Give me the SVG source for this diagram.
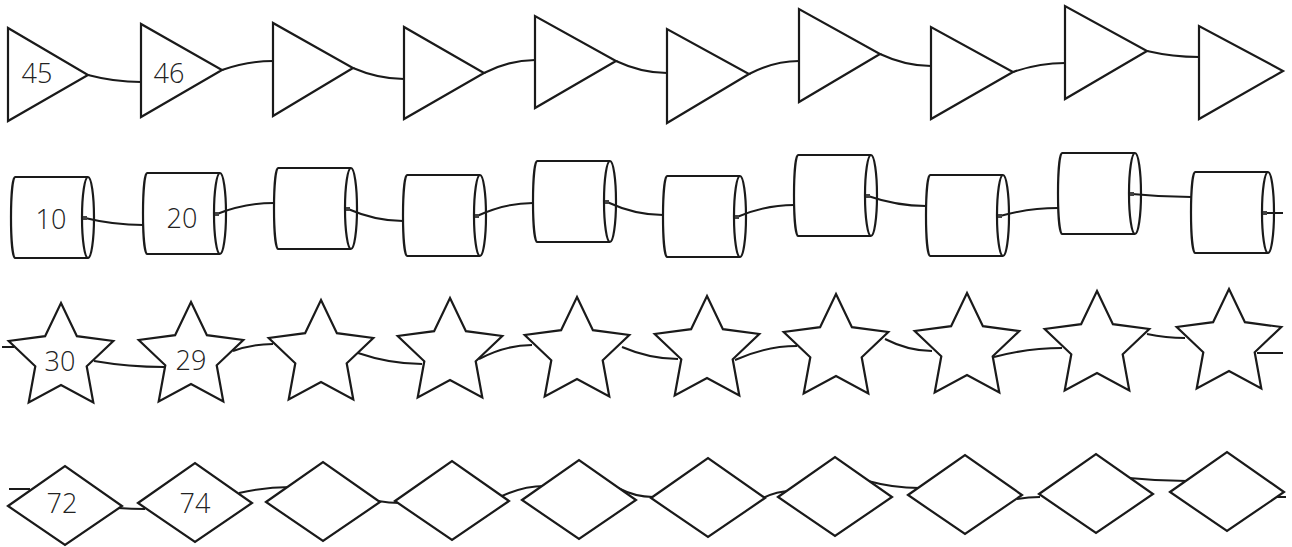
<svg xmlns="http://www.w3.org/2000/svg" xmlns:xlink="http://www.w3.org/1999/xlink" width="1292" height="547" viewBox="0 0 1292 547">
<style>
.shape{fill:#fff;stroke:#1a1a1a;stroke-width:2.2;stroke-linejoin:miter}
.open{fill:none;stroke:#1a1a1a;stroke-width:2.2}
.conn{fill:none;stroke:#1a1a1a;stroke-width:2}
.dot{fill:#444}
.lbl{font-family:"Open Sans","Noto Sans","Liberation Sans",sans-serif;font-weight:300;font-size:27px;fill:#222;text-anchor:middle}
</style>
<defs>
<path id="star" d="M0,-55 L15.9,-21.8 L52.3,-17 L25.7,8.3 L32.3,44.5 L0,27 L-32.3,44.5 L-25.7,8.3 L-52.3,-17 L-15.9,-21.8 Z"/>
<path id="diamond" d="M-57,0 L0,-40 L57,0 L0,39 Z"/>
<g id="cyl">
<path class="shape" d="M4,0 H77 M77,81 H4 A4,40.5 0 0 1 4,0"/>
<ellipse class="open" cx="77" cy="40.5" rx="6" ry="40.5"/>
<rect class="dot" x="72" y="39" width="4" height="4"/>
</g>
</defs>
<rect width="1292" height="547" fill="#fff"/>
<g id="connectors">
<path class="conn" d="M88,75 Q114.5,82 141,82"/>
<path class="conn" d="M222,70 Q247.5,61 273,61"/>
<path class="conn" d="M353,68 Q378.5,79 404,79"/>
<path class="conn" d="M484,73 Q509.5,60 535,60"/>
<path class="conn" d="M616,61 Q641.5,73 667,73"/>
<path class="conn" d="M749,74 Q774,61 799,61"/>
<path class="conn" d="M880,54 Q905.5,66 931,66"/>
<path class="conn" d="M1013,72 Q1039,63 1065,63"/>
<path class="conn" d="M1147,51 Q1173,57 1199,57"/>
<path class="conn" d="M85,218 Q114,225 143,225"/>
<path class="conn" d="M217,214 Q245.5,203 274,203"/>
<path class="conn" d="M348,209 Q375.5,221 403,221"/>
<path class="conn" d="M477,216 Q505,203 533,203"/>
<path class="conn" d="M607,202 Q635,215 663,215"/>
<path class="conn" d="M737,217 Q765.5,205 794,205"/>
<path class="conn" d="M868,196 Q897,206 926,206"/>
<path class="conn" d="M1000,216 Q1029,208 1058,208"/>
<path class="conn" d="M1132,194 Q1161.5,197 1191,197"/>
<path class="conn" d="M1265,213 L1283,213"/>
<path class="conn" d="M2,347 L14,347"/>
<path class="conn" d="M94,361 Q129,367 164,367"/>
<path class="conn" d="M233,351 Q253,344 273,344"/>
<path class="conn" d="M358,353 Q390,364 422,364"/>
<path class="conn" d="M479,359 Q505.5,345 532,345"/>
<path class="conn" d="M622,347 Q650,359 678,359"/>
<path class="conn" d="M735,360 Q766,346 797,346"/>
<path class="conn" d="M885,339 Q908.5,351 932,351"/>
<path class="conn" d="M994,357 Q1028,348 1062,348"/>
<path class="conn" d="M1147,334 Q1166,338 1185,338"/>
<path class="conn" d="M1257,353 L1283,353"/>
<path class="conn" d="M9,489 L30,489"/>
<path class="conn" d="M118,508 Q131.5,509 145,509"/>
<path class="conn" d="M239,493 Q265,487 291,487"/>
<path class="conn" d="M378,501 Q389,503 400,503"/>
<path class="conn" d="M502,496 Q523.5,486 545,486"/>
<path class="conn" d="M618,488 Q635.5,497 653,497"/>
<path class="conn" d="M763,498 Q777,491 791,491"/>
<path class="conn" d="M868,481 Q893.5,488 919,488"/>
<path class="conn" d="M1017,499 Q1028.5,497 1040,497"/>
<path class="conn" d="M1129,478 Q1158,481 1187,481"/>
<path class="conn" d="M1275,497 L1286,497"/>
</g>
<g id="t1"><polygon class="shape" points="8,28 8,121 88,75"/><text class="lbl" x="37" y="83">45</text></g>
<g id="t2"><polygon class="shape" points="141,24 141,117 222,70"/><text class="lbl" x="169" y="83">46</text></g>
<g id="t3"><polygon class="shape" points="273,23 273,116 353,68"/></g>
<g id="t4"><polygon class="shape" points="404,27 404,119 484,73"/></g>
<g id="t5"><polygon class="shape" points="535,16 535,108 616,61"/></g>
<g id="t6"><polygon class="shape" points="667,29 667,123 749,74"/></g>
<g id="t7"><polygon class="shape" points="799,9 799,102 880,54"/></g>
<g id="t8"><polygon class="shape" points="931,27 931,119 1013,72"/></g>
<g id="t9"><polygon class="shape" points="1065,6 1065,99 1147,51"/></g>
<g id="t10"><polygon class="shape" points="1199,26 1199,119 1283,71"/></g>
<g id="c1"><use xlink:href="#cyl" transform="translate(11,177)"/><text class="lbl" x="51" y="229">10</text></g>
<g id="c2"><use xlink:href="#cyl" transform="translate(143,173)"/><text class="lbl" x="182" y="228">20</text></g>
<g id="c3"><use xlink:href="#cyl" transform="translate(274,168)"/></g>
<g id="c4"><use xlink:href="#cyl" transform="translate(403,175)"/></g>
<g id="c5"><use xlink:href="#cyl" transform="translate(533,161)"/></g>
<g id="c6"><use xlink:href="#cyl" transform="translate(663,176)"/></g>
<g id="c7"><use xlink:href="#cyl" transform="translate(794,155)"/></g>
<g id="c8"><use xlink:href="#cyl" transform="translate(926,175)"/></g>
<g id="c9"><use xlink:href="#cyl" transform="translate(1058,153)"/></g>
<g id="c10"><use xlink:href="#cyl" transform="translate(1191,172)"/></g>
<g id="s1"><use xlink:href="#star" class="shape" transform="translate(61,358)"/><text class="lbl" x="60" y="371">30</text></g>
<g id="s2"><use xlink:href="#star" class="shape" transform="translate(191,357)"/><text class="lbl" x="191" y="370">29</text></g>
<g id="s3"><use xlink:href="#star" class="shape" transform="translate(321,355)"/></g>
<g id="s4"><use xlink:href="#star" class="shape" transform="translate(450,353)"/></g>
<g id="s5"><use xlink:href="#star" class="shape" transform="translate(577,352)"/></g>
<g id="s6"><use xlink:href="#star" class="shape" transform="translate(707,351)"/></g>
<g id="s7"><use xlink:href="#star" class="shape" transform="translate(836,349)"/></g>
<g id="s8"><use xlink:href="#star" class="shape" transform="translate(967,348)"/></g>
<g id="s9"><use xlink:href="#star" class="shape" transform="translate(1097,346)"/></g>
<g id="s10"><use xlink:href="#star" class="shape" transform="translate(1229,344)"/></g>
<g id="d1"><use xlink:href="#diamond" class="shape" transform="translate(65,506)"/><text class="lbl" x="62" y="513">72</text></g>
<g id="d2"><use xlink:href="#diamond" class="shape" transform="translate(195,503)"/><text class="lbl" x="195" y="513">74</text></g>
<g id="d3"><use xlink:href="#diamond" class="shape" transform="translate(323,502)"/></g>
<g id="d4"><use xlink:href="#diamond" class="shape" transform="translate(452,501)"/></g>
<g id="d5"><use xlink:href="#diamond" class="shape" transform="translate(579,500)"/></g>
<g id="d6"><use xlink:href="#diamond" class="shape" transform="translate(708,498)"/></g>
<g id="d7"><use xlink:href="#diamond" class="shape" transform="translate(835,497)"/></g>
<g id="d8"><use xlink:href="#diamond" class="shape" transform="translate(965,495)"/></g>
<g id="d9"><use xlink:href="#diamond" class="shape" transform="translate(1096,494)"/></g>
<g id="d10"><use xlink:href="#diamond" class="shape" transform="translate(1227,492)"/></g>
</svg>
